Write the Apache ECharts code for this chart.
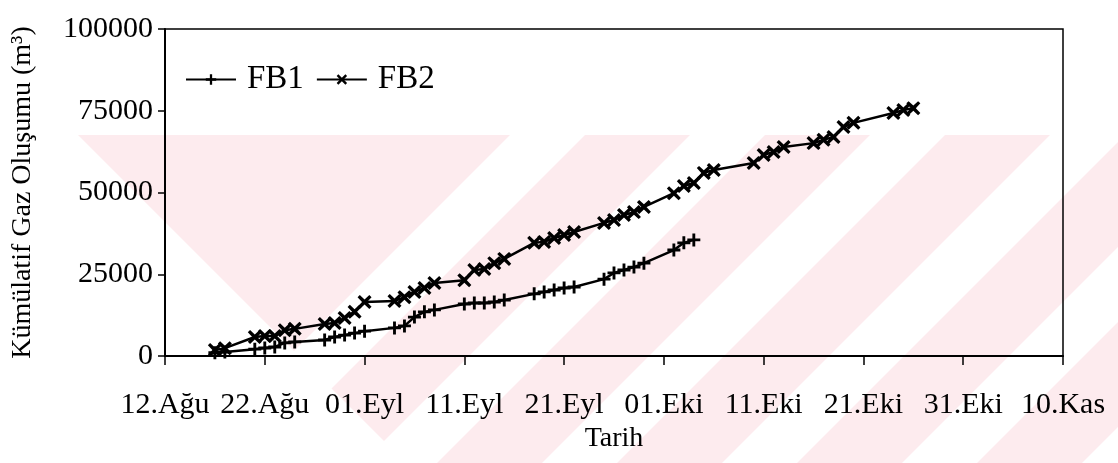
<!DOCTYPE html>
<html>
<head>
<meta charset="utf-8">
<script src="https://cdn.jsdelivr.net/npm/echarts@6/dist/echarts.min.js"></script>
<style>
  html, body { margin: 0; padding: 0; background: #ffffff; }
  #chart { width: 1118px; height: 463px; }
</style>
</head>
<body>
<div id="chart"></div>
<script>
// ---- data ----
const startDate = '2000-08-12';
const tickLabels = ['12.Ağu', '22.Ağu', '01.Eyl', '11.Eyl', '21.Eyl', '01.Eki', '11.Eki', '21.Eki', '31.Eki', '10.Kas'];
const yTicks = [0, 25000, 50000, 75000, 100000];

const fb1Dates = [
  '2000-08-17', '2000-08-18',
  '2000-08-21', '2000-08-22', '2000-08-23', '2000-08-24', '2000-08-25',
  '2000-08-28', '2000-08-29', '2000-08-30', '2000-08-31', '2000-09-01',
  '2000-09-04', '2000-09-05', '2000-09-06', '2000-09-07', '2000-09-08',
  '2000-09-11', '2000-09-12', '2000-09-13', '2000-09-14', '2000-09-15',
  '2000-09-18', '2000-09-19', '2000-09-20', '2000-09-21', '2000-09-22',
  '2000-09-25', '2000-09-26', '2000-09-27', '2000-09-28', '2000-09-29',
  '2000-10-02', '2000-10-03', '2000-10-04'
];
const fb1Values = [
  1000, 1200,
  2100, 2450, 2750, 4000, 4300,
  4900, 5800, 6400, 7000, 7600,
  8600, 9200, 11900, 13500, 14100,
  15900, 16200, 16200, 16500, 17100,
  19000, 19600, 20200, 20800, 21100,
  23500, 25400, 26300, 27200, 28400,
  32400, 34600, 35500
];

const fb2Dates = [
  '2000-08-17', '2000-08-18',
  '2000-08-21', '2000-08-22', '2000-08-23', '2000-08-24', '2000-08-25',
  '2000-08-28', '2000-08-29', '2000-08-30', '2000-08-31', '2000-09-01',
  '2000-09-04', '2000-09-05', '2000-09-06', '2000-09-07', '2000-09-08',
  '2000-09-11', '2000-09-12', '2000-09-13', '2000-09-14', '2000-09-15',
  '2000-09-18', '2000-09-19', '2000-09-20', '2000-09-21', '2000-09-22',
  '2000-09-25', '2000-09-26', '2000-09-27', '2000-09-28', '2000-09-29',
  '2000-10-02', '2000-10-03', '2000-10-04', '2000-10-05', '2000-10-06',
  '2000-10-10', '2000-10-11', '2000-10-12', '2000-10-13',
  '2000-10-16', '2000-10-17', '2000-10-18', '2000-10-19', '2000-10-20',
  '2000-10-24', '2000-10-25', '2000-10-26'
];
const fb2Values = [
  1800, 2400,
  5800, 6100, 6100, 7900, 8300,
  9800, 10100, 11600, 13500, 16500,
  16800, 18000, 19600, 20800, 22300,
  23200, 26300, 26600, 28400, 29700,
  34600, 34900, 36100, 37000, 37900,
  40700, 41600, 43100, 44000, 45600,
  49800, 52000, 52900, 56000, 56900,
  59000, 61500, 62400, 63900,
  65100, 66100, 67000, 70000, 71300,
  74300, 75200, 75800
];

// ---- helpers ----
const DAY = 86400000;
function dayOffset(d) {
  return Math.round((Date.parse(d + 'T00:00:00Z') - Date.parse(startDate + 'T00:00:00Z')) / DAY);
}
function pairs(dates, vals) { return dates.map((d, i) => [dayOffset(d), vals[i]]); }

const PLUS = 'path://M3.9,0H6.1V3.9H10V6.1H6.1V10H3.9V6.1H0V3.9H3.9Z';
const CROSS = 'path://M1.6,0L5,3.2L8.4,0L10,1.6L6.8,5L10,8.4L8.4,10L5,6.8L1.6,10L0,8.4L3.2,5L0,1.6Z';
const FONT = '"Liberation Serif", "Times New Roman", serif';

// faint scanned-page watermark (decoration only)
const PINK = '#fdebee';
const wmTop = 135, wmBottom = 463, wmDrop = wmBottom - wmTop;
const watermark = [
  { type: 'polygon', z: -10, silent: true,
    shape: { points: [[78, wmTop], [1118, wmTop], [1118, wmBottom], [78 + wmDrop, wmBottom]] },
    style: { fill: PINK } }
];
[510, 690, 870, 1050, 1230, 1410].forEach(a => {
  watermark.push({ type: 'polygon', z: -9, silent: true,
    shape: { points: [[a, wmTop], [a + 75, wmTop], [a + 75 - wmDrop, wmBottom], [a - wmDrop, wmBottom]] },
    style: { fill: '#ffffff' } });
});

const chart = echarts.init(document.getElementById('chart'), null, { renderer: 'canvas' });
chart.setOption({
  backgroundColor: '#ffffff',
  animation: false,
  textStyle: { fontFamily: FONT, color: '#000' },
  graphic: watermark,
  grid: {
    left: 165, right: 55, top: 29, bottom: 107,
    show: true, borderColor: '#000', borderWidth: 1.5, backgroundColor: 'transparent'
  },
  legend: {
    left: 180, top: 58,
    itemWidth: 50, itemHeight: 13, itemGap: 12,
    textStyle: { fontFamily: FONT, fontSize: 33, color: '#000', padding: [0, 0, 0, 6] },
    data: ['FB1', 'FB2']
  },
  xAxis: {
    type: 'value', min: 0, max: 90, interval: 10,
    name: 'Tarih', nameLocation: 'middle', nameGap: 62,
    nameTextStyle: { fontFamily: FONT, fontSize: 28, color: '#000' },
    axisLine: { lineStyle: { color: '#000', width: 2 } },
    axisTick: { show: true, length: 9, lineStyle: { color: '#000', width: 1.5 } },
    splitLine: { show: false },
    axisLabel: {
      fontFamily: FONT, fontSize: 30, color: '#000', margin: 34,
      formatter: v => tickLabels[Math.round(v / 10)] || ''
    }
  },
  yAxis: {
    type: 'value', min: 0, max: 100000, interval: 25000,
    name: 'Kümülatif Gaz Oluşumu (m³)', nameLocation: 'middle', nameGap: 128,
    nameTextStyle: { fontFamily: FONT, fontSize: 28, color: '#000' },
    axisLine: { show: true, lineStyle: { color: '#000', width: 2 } },
    axisTick: { show: true, length: 7, lineStyle: { color: '#000', width: 1.5 } },
    splitLine: { show: false },
    axisLabel: {
      fontFamily: FONT, fontSize: 30, color: '#000', margin: 12,
      formatter: v => (yTicks.indexOf(v) >= 0 ? String(v) : '')
    }
  },
  series: [
    {
      name: 'FB1', type: 'line', data: pairs(fb1Dates, fb1Values),
      symbol: PLUS, symbolSize: 13, showAllSymbol: true,
      lineStyle: { color: '#000', width: 2.5 },
      itemStyle: { color: '#000', borderWidth: 0 }
    },
    {
      name: 'FB2', type: 'line', data: pairs(fb2Dates, fb2Values),
      symbol: CROSS, symbolSize: 14, showAllSymbol: true,
      lineStyle: { color: '#000', width: 2.5 },
      itemStyle: { color: '#000', borderWidth: 0 }
    }
  ]
});
</script>
</body>
</html>
